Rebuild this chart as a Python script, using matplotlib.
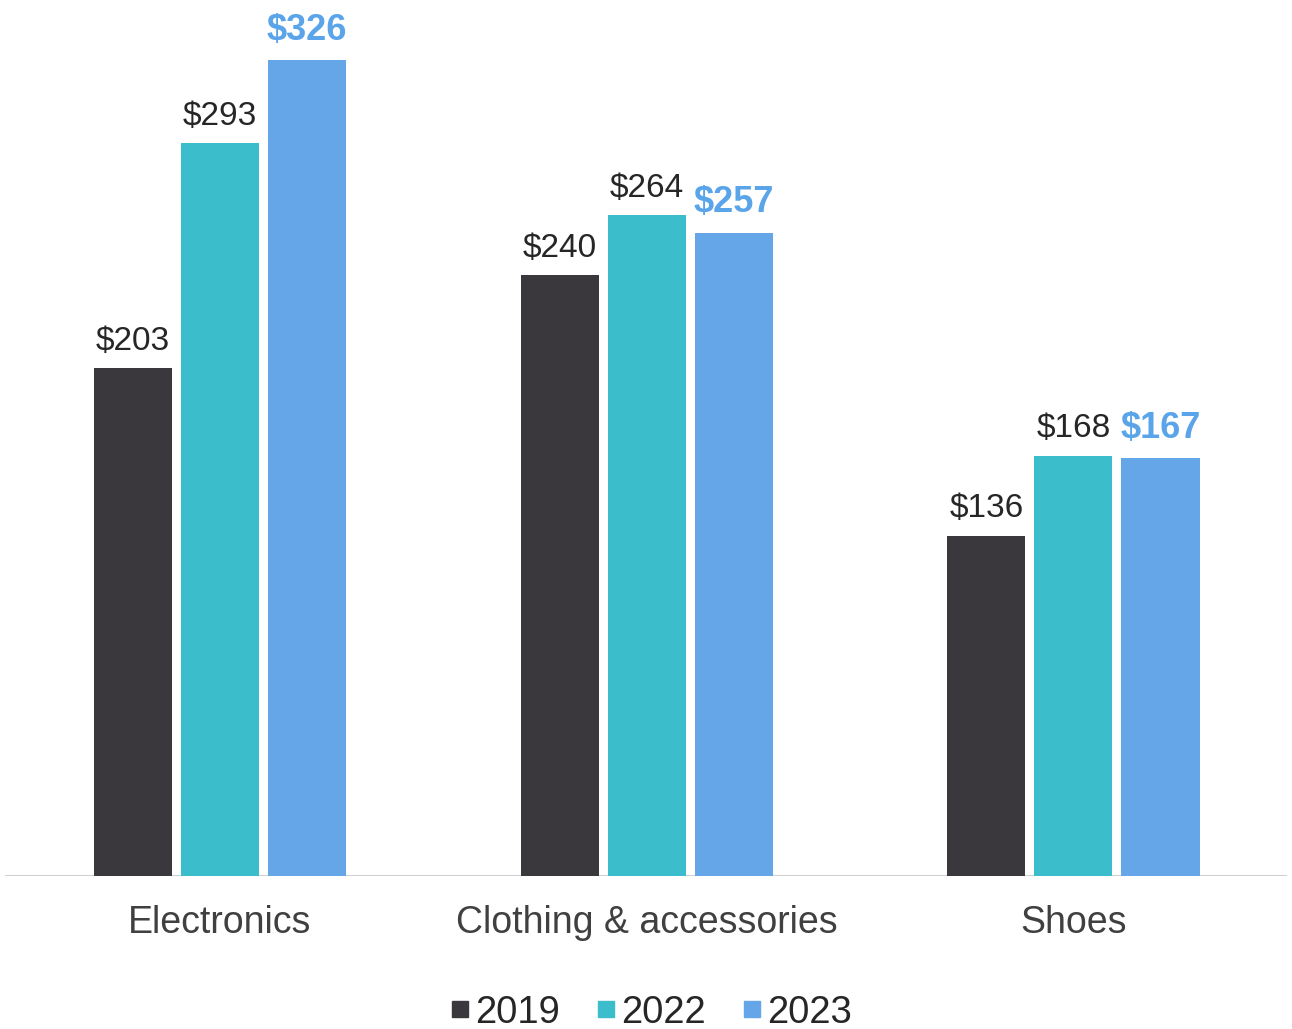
import numpy as np
import matplotlib.pyplot as plt
from matplotlib.lines import Line2D

plt.rcParams['font.family'] = ['Liberation Sans', 'DejaVu Sans']

categories = ["Electronics", "Clothing & accessories", "Shoes"]
years = ["2019", "2022", "2023"]
values_2019 = [203, 240, 136]
values_2022 = [293, 264, 168]
values_2023 = [326, 257, 167]

colors = ["#3a373d", "#3bbdcb", "#64a6e8"]
series = [values_2019, values_2022, values_2023]

fig = plt.figure(figsize=(12.92, 10.29), dpi=100)
ax = fig.add_axes([0.004, 0.1487, 0.992, 0.8513])

x = np.arange(len(categories))
width = 0.183
step = 0.204

for i, (vals, col) in enumerate(zip(series, colors)):
    pos = x + (i - 1) * step
    ax.bar(pos, vals, width=width, color=col, zorder=3)
    for px, v in zip(pos, vals):
        if i == 2:
            ax.annotate("${}".format(v), (px, v), xytext=(0, 9), textcoords="offset points",
                        ha="center", va="bottom", fontsize=26, fontweight="bold", color="#5aa4ea")
        else:
            ax.annotate("${}".format(v), (px, v), xytext=(0, 8), textcoords="offset points",
                        ha="center", va="bottom", fontsize=24, color="#262626")

ax.set_xlim(-0.503, 2.5)
ax.set_ylim(0, 350)
ax.axhline(0, color="#d0d0d0", lw=2.2, zorder=2)
for s in ax.spines.values():
    s.set_visible(False)
ax.set_yticks([])
ax.set_xticks(x)
ax.set_xticklabels(categories, fontsize=27, color="#404040")
ax.tick_params(axis="x", length=0, pad=21)

handles = [Line2D([], [], marker="s", linestyle="none", markersize=12, color=c) for c in colors]
fig.legend(handles, years, loc="lower center", bbox_to_anchor=(0.502, -0.035), ncol=3, frameon=False,
           fontsize=27.5, handletextpad=0.0, columnspacing=0.8, handlelength=0.8,
           labelcolor="#262626")

fig.savefig("out.png", dpi=100)
